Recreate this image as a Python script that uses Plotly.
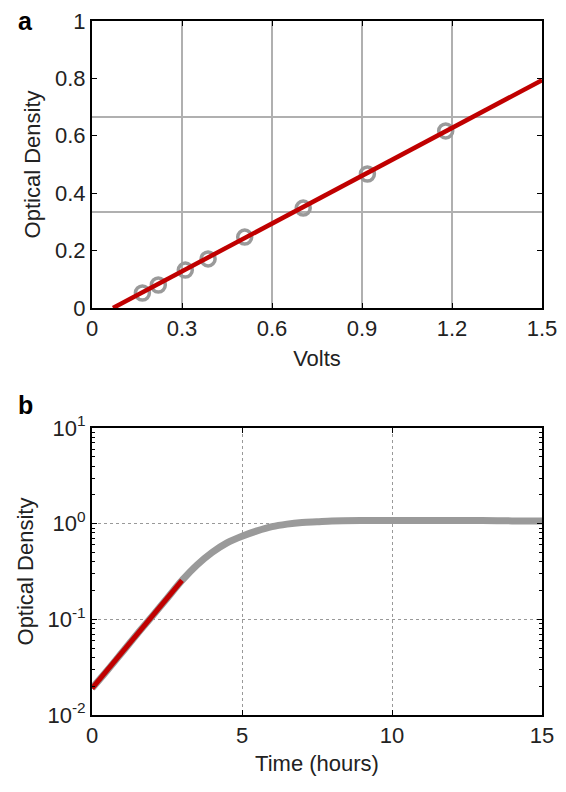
import plotly.graph_objects as go

# panel a: calibration points and linear fit
volts = [0.168, 0.221, 0.311, 0.387, 0.509, 0.704, 0.918, 1.179]
od_cal = [0.052, 0.080, 0.132, 0.171, 0.247, 0.348, 0.467, 0.617]
fit_volts = [0.07, 1.5]
fit_od = [0.0, 0.794]

# panel b: growth curve and exponential fit
hours = [0, 0.5, 1, 1.5, 2, 2.5, 3, 3.5, 4, 4.5, 5, 5.5, 6, 6.5, 7, 7.5, 8, 9, 10, 11, 12, 13, 14, 15]
od_growth = [0.019, 0.029, 0.045, 0.070, 0.107, 0.165, 0.255, 0.37, 0.50, 0.63, 0.74, 0.84,
             0.93, 0.99, 1.03, 1.05, 1.07, 1.08, 1.08, 1.08, 1.08, 1.08, 1.07, 1.07]
fit_hours = [0, 3]
fit_growth = [0.019, 0.255]

RED = "#c00000"
GREY = "#9a9a9a"
FONT = "Liberation Sans"
FS = 22

fig = go.Figure()
fig.add_trace(go.Scatter(x=volts, y=od_cal, mode="markers", xaxis="x", yaxis="y",
                         marker=dict(symbol="circle-open", size=14, color=GREY, line=dict(width=3.5, color=GREY))))
fig.add_trace(go.Scatter(x=fit_volts, y=fit_od, mode="lines", xaxis="x", yaxis="y",
                         line=dict(color=RED, width=4.5)))
fig.add_trace(go.Scatter(x=hours, y=od_growth, mode="lines", xaxis="x2", yaxis="y2",
                         line=dict(color=GREY, width=7, shape="spline")))
fig.add_trace(go.Scatter(x=fit_hours, y=fit_growth, mode="lines", xaxis="x2", yaxis="y2",
                         line=dict(color=RED, width=5)))

axis_common = dict(showline=True, linecolor="black", linewidth=2, mirror="ticks",
                   ticks="inside", ticklen=5, tickcolor="black", zeroline=False, automargin=False,
                   ticklabeloverflow="allow",
                   tickfont=dict(size=FS, color="#222"), title_font=dict(size=FS, color="#222"))

top = [0.5865, 1.0]
bottom = [0.0, 0.4135]

# page body has an 8px margin: shrink the figure so it fits the window without scrolling
fig.update_layout(
    width=558, height=776,
    margin=dict(l=84, r=24, t=13, b=69),
    plot_bgcolor="white", paper_bgcolor="white",
    font=dict(family=FONT, color="#222"),
    showlegend=False,
    xaxis=dict(domain=[0, 1], anchor="y", range=[0, 1.5], tickvals=[0, 0.3, 0.6, 0.9, 1.2, 1.5],
               ticktext=["0", "0.3", "0.6", "0.9", "1.2", "1.5"],
               showgrid=True, gridcolor="#b0b0b0", gridwidth=1.5,
               title=dict(text="Volts", standoff=10), **axis_common),
    yaxis=dict(domain=top, anchor="x", range=[0, 1], tickvals=[0, 0.2, 0.4, 0.6, 0.8, 1],
               ticktext=["0", "0.2", "0.4", "0.6", "0.8", "1"], showgrid=False,
               minor=dict(tickvals=[1 / 3, 2 / 3], ticks="", showgrid=True,
                          gridcolor="#b0b0b0", gridwidth=1.5),
               title=dict(text="Optical Density", standoff=8), **axis_common),
    xaxis2=dict(domain=[0, 1], anchor="y2", range=[0, 15], tickvals=[0, 5, 10, 15],
                showgrid=True, gridcolor="#999", griddash="dot", gridwidth=1,
                title=dict(text="Time (hours)", standoff=8), **axis_common),
    yaxis2=dict(domain=bottom, anchor="x2", type="log", range=[-2, 1],
                tickvals=[0.01, 0.1, 1, 10],
                ticktext=["10<sup>-2</sup>", "10<sup>-1</sup>", "10<sup>0</sup>", "10<sup>1</sup>"],
                showgrid=True, gridcolor="#999", griddash="dot", gridwidth=1,
                minor=dict(ticks="inside", ticklen=3, tickcolor="black", showgrid=False,
                           tickvals=[m * 10 ** e for e in (-2, -1, 0) for m in range(2, 10)]),
                title=dict(text="Optical Density", standoff=8), **axis_common),
    annotations=[
        dict(text="<b>a</b>", x=-0.17, y=1.0, xref="paper", yref="paper", xanchor="left",
             yanchor="middle", showarrow=False, font=dict(size=25, color="black")),
        dict(text="<b>b</b>", x=-0.17, y=(715 - 405) / 694, xref="paper", yref="paper", xanchor="left",
             yanchor="middle", showarrow=False, font=dict(size=25, color="black")),
    ],
)

fig.write_html("out.html")
